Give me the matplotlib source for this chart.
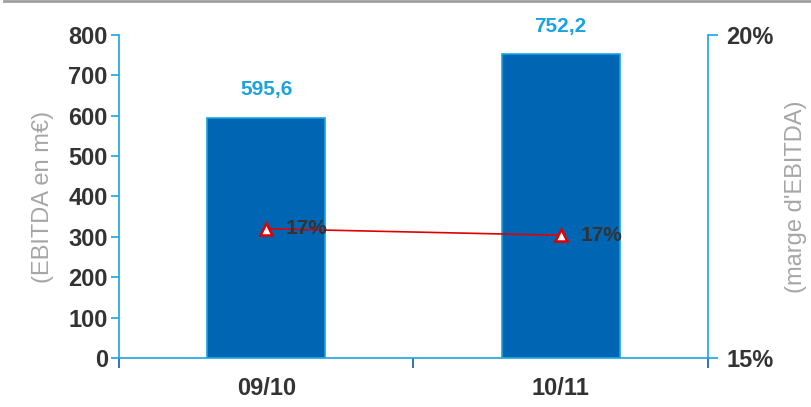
import matplotlib.pyplot as plt
from matplotlib.lines import Line2D
from matplotlib.ticker import FuncFormatter

plt.rcParams['font.family'] = ['Liberation Sans', 'DejaVu Sans']

years = ['09/10', '10/11']
ebitda = [595.6, 752.2]
ebitda_labels = ['595,6', '752,2']
margin = [0.170, 0.169]
margin_labels = ['17%', '17%']

bar_blue = '#0066b3'
light_blue = '#1aa3e0'
dark_txt = '#333333'
grey_txt = '#a6a6a6'

fig = plt.figure(figsize=(8.11, 4.07), dpi=100)
ax = fig.add_axes([0.1467, 0.1204, 0.7263, 0.7936])
ax2 = ax.twinx()

x = list(range(len(years)))
ax.bar(x, ebitda, width=0.4, color=bar_blue, edgecolor=light_blue, linewidth=1.2, zorder=2)
for xi, v, s in zip(x, ebitda, ebitda_labels):
    ax.annotate(s, (xi, v), xytext=(0, 13), textcoords='offset points',
                ha='center', va='bottom', color=light_blue, fontsize=15, fontweight='bold')

ax.set_xlim(-0.5, 1.5)
ax.set_ylim(0, 800)
ax.set_yticks(range(0, 801, 100))
ax.set_xticks([-0.5, 0.5, 1.5])
ax.set_xticklabels([])
ax.set_xticks(x, minor=True)
ax.set_xticklabels(years, minor=True)
ax.tick_params(axis='x', which='major', direction='out', length=7, width=1.2, color='#0a5ca8')
ax.tick_params(axis='x', which='minor', length=0, pad=14, labelsize=17, labelcolor=dark_txt)
ax.tick_params(axis='y', direction='out', length=6, width=1.2, color=light_blue,
               labelsize=17, labelcolor=dark_txt, pad=2)
for lab in ax.get_xticklabels(minor=True) + ax.get_yticklabels():
    lab.set_fontweight('bold')
ax.set_ylabel('(EBITDA en m€)', color=grey_txt, fontsize=17, labelpad=10)

for sp in ['top', 'right']:
    ax.spines[sp].set_visible(False)
ax.spines['left'].set_color(light_blue)
ax.spines['bottom'].set_color(light_blue)
ax.spines['left'].set_linewidth(1.2)
ax.spines['bottom'].set_linewidth(1.2)

ax2.plot(x, margin, color='#e00000', linewidth=1.2, marker='^', markersize=9,
         markerfacecolor='white', markeredgecolor='#e00000', markeredgewidth=1.8, zorder=3)
for xi, m, s in zip(x, margin, margin_labels):
    ax2.annotate(s, (xi, m), xytext=(14, 0), textcoords='offset points',
                 ha='left', va='center', color=dark_txt, fontsize=15, fontweight='bold')
ax2.set_ylim(0.15, 0.20)
ax2.set_yticks([0.15, 0.20])
ax2.yaxis.set_major_formatter(FuncFormatter(lambda v, p: f'{v * 100:.0f}%'))
ax2.tick_params(axis='y', direction='out', length=7, width=1.2, color=light_blue,
                labelsize=17, labelcolor=dark_txt, pad=6)
for lab in ax2.get_yticklabels():
    lab.set_fontweight('bold')
ax2.set_ylabel('(marge d\'EBITDA)', color=grey_txt, fontsize=17, rotation=90, labelpad=8)
for sp in ['top', 'left', 'bottom']:
    ax2.spines[sp].set_visible(False)
ax2.spines['right'].set_color(light_blue)
ax2.spines['right'].set_linewidth(1.2)

fig.add_artist(Line2D([0.005, 1.0], [0.997, 0.997], transform=fig.transFigure,
                      color='#a0a0a0', linewidth=2))

fig.savefig('out.png', dpi=100)
